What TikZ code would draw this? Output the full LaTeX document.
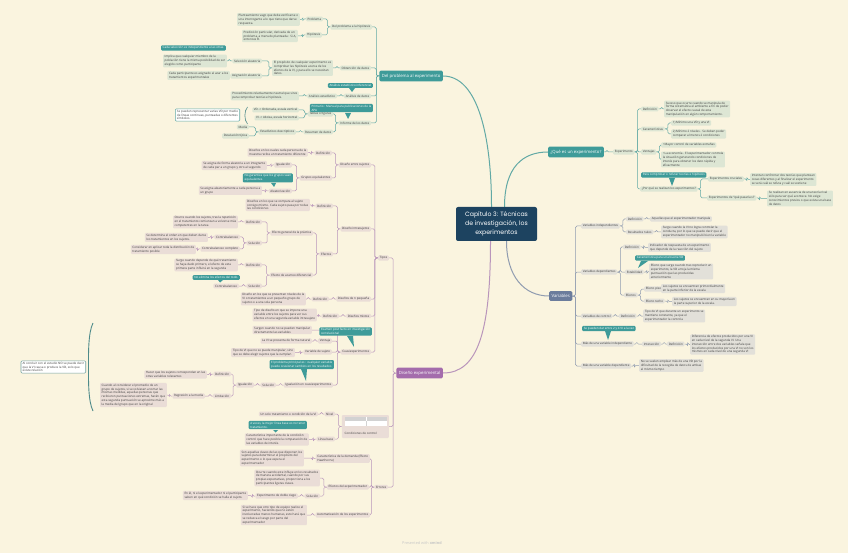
\documentclass[tikz,border=0pt]{standalone}
\usepackage{fontspec}
\setmainfont{Open Sans}
\newfontfamily\titlefont{Poppins}
\usetikzlibrary{positioning, backgrounds}
\definecolor{cbg}{HTML}{FAF4DF}
\definecolor{ctext}{HTML}{3B3B3B}
\definecolor{cteal}{HTML}{3E9B99}
\definecolor{ctline}{HTML}{62A9A5}
\definecolor{ctfill}{HTML}{DDE6D4}
\definecolor{cpurple}{HTML}{A46CAC}
\definecolor{cpline}{HTML}{B995BB}
\definecolor{cpfill}{HTML}{EADDD7}
\definecolor{cslate}{HTML}{6B7C9C}
\definecolor{csline}{HTML}{909CB0}
\definecolor{csfill}{HTML}{E2E0D9}
\definecolor{cnavy}{HTML}{1D4360}
\definecolor{cbrace}{HTML}{4F8B8A}
\tikzset{
  every picture/.style={font=\fontsize{3}{3.8}\selectfont},
  tb/.style={fill=ctfill, text=ctext, rounded corners=1pt, inner xsep=1.6pt, inner ysep=1.1pt, align=left},
  pb/.style={tb, fill=cpfill},
  sb/.style={tb, fill=csfill},
  bub/.style={fill=cteal, text=white, rounded corners=1pt, inner xsep=1.6pt, inner ysep=1.1pt, align=left},
  note/.style={tb, fill=white, draw=ctline, line width=0.6pt},
  hub/.style={text=white, rounded corners=1.5pt, inner xsep=2.4pt, minimum height=8.5pt, font=\fontsize{4.3}{5}\selectfont},
  tl/.style={draw=ctline, line width=0.5pt, rounded corners=1.5pt},
  pl/.style={tl, draw=cpline},
  sl/.style={tl, draw=csline},
}
\begin{document}
\begin{tikzpicture}[x=1pt, y=-1pt]
  \useasboundingbox (0,0) rectangle (848,553);

  % centre
  \node[fill=cnavy, text=white, rounded corners=2pt, align=center, minimum width=81pt, minimum height=34pt, font=\titlefont\fontsize{6.2}{8.8}\selectfont] (cap) at (496.5,224) {Capítulo 3: Técnicas\\de investigación, los\\experimentos};

  \begin{scope}[every node/.append style={anchor=east}]
  % del problema al experimento
  \node[hub, fill=cteal] (dpe) at (443,76) {Del problema al experimento};
  \node[tb] (dph) at (372,27) {Del problema a la hipótesis};
  \node[tb] (prob) at (323,19) {Problema};
  \node[tb] (probt) at (300,19.5) {Planteamiento vago que debe verificarse o\\una interrogante a lo que tiene que darse\\respuesta.};
  \node[tb] (hip) at (322,35) {Hipótesis};
  \node[tb] (hipt) at (298,36) {Predicción particular, derivada de un\\problema, a menudo planteada : Si A,\\entonces B.};
  \node[tb] (obt) at (371,68) {Obtención de datos};
  \node[tb] (prop) at (333,68) {El propósito de cualquier experimento es\\comprobar las hipótesis acerca de los\\efectos de la VI, y para ello se necesitan\\datos.};
  \node[tb] (sel) at (262,61) {Selección aleatoria};
  \node[tb] (selt) at (227,61) {Implica que cualquier miembro de la\\población tiene la misma posibilidad de ser\\elegido como participante};
  \node[bub] (selc) at (226,48) {Cada selección es independiente a las otras.};
  \node[tb] (asig) at (262,76) {Asignación aleatoria};
  \node[tb] (asigt) at (230,75.5) {Cada participante es asignado al azar a los\\tratamientos experimentales};
  \node[tb] (anal) at (371,96) {Análisis de datos};
  \node[tb] (anest) at (337,96) {Análisis estadístico};
  \node[tb] (anestt) at (299,96) {Procedimiento relativamente neutral que sirve\\para comprobar teorías e hipótesis.};
  \node[bub] (aninf) at (373,85.5) {Análisis estadístico inferencial};
  \node[tb] (inf) at (371,123) {Informe de los datos};
  \node[tb] (tab) at (333,114) {Tablas o figuras};
  \node[tb] (vdax) at (299,110) {VD -> Ordenada, escala vertical};
  \node[tb] (viax) at (299,118) {VI -> Abcisa, escala horizontal};
  \node[note] (repr) at (240,115) {Se pueden representar varias VD por medio\\de líneas continuas, punteadas o diferentes\\símbolos.};
  \node[bub] (apa) at (373,108) {Primario : Manual para publicaciones de la\\APA};
  \node[tb] (res) at (333,132) {Resumen de datos};
  \node[tb] (desc) at (296,132) {Estadísticos descriptivos};
  \node[tb] (media) at (249,127) {Media};
  \node[tb] (desv) at (249,136) {Desviación típica};

  % diseño experimental
  \node[hub, fill=cpurple] (dex) at (443,373) {Diseño experimental};
  \node[pb] (tipos) at (389,258) {Tipos};
  \node[pb] (des) at (371,165) {Diseño entre sujetos};
  \node[pb] (desdef) at (332,153) {Definición};
  \node[pb] (desdeft) at (308,152.5) {Diseños en los cuales cada persona de la\\muestra recibe un tratamiento diferente};
  \node[pb] (geq) at (332,178) {Grupos equivalentes};
  \node[pb] (igu) at (292,165) {Igualación};
  \node[pb] (igut) at (267,165.5) {Se asigna de forma aleatoria a un integrante\\de cada par a un grupo y otro al segundo};
  \node[bub] (igucal) at (293,178) {No garantiza que los grupos sean\\equivalentes.};
  \node[pb] (alea) at (292,191) {Aleatorización};
  \node[pb] (aleat) at (262,190.5) {Se asigna aleatoriamente a cada persona a\\un grupo};
  \node[pb] (dis) at (371,229) {Diseño intrasujetos};
  \node[pb] (disdef) at (333,206) {Definición};
  \node[pb] (disdeft) at (310,205) {Diseños en los que se compara al sujeto\\consigo mismo. Cada sujeto pasa por todas\\las condiciones};
  \node[pb] (efe) at (333,254) {Efectos};
  \node[pb] (egp) at (313,233) {Efecto general de la práctica};
  \node[pb] (egpdef) at (262,222) {Definición};
  \node[pb] (egpdeft) at (238,222) {Ocurre cuando los sujetos, tras la repetición\\en el tratamiento comienzan a volverse más\\competentes en la tarea};
  \node[pb] (egpsol) at (262,243) {Solución};
  \node[pb] (cba) at (240,237) {Contrabalanceo};
  \node[pb] (cbat) at (208,237.5) {Se determina el orden en que deben darse\\los tratamientos en los sujetos.};
  \node[pb] (cbc) at (240,249) {Contrabalanceo completo};
  \node[pb] (cbct) at (196,249.5) {Considerar en aplicar toda la distribución de\\tratamiento posible};
  \node[pb] (ead) at (313,275) {Efecto de acarreo diferencial};
  \node[pb] (eaddef) at (262,265) {Definición};
  \node[pb] (eaddeft) at (238,265) {Surge cuando depende de qué tratamiento\\se haya dado primero, el efecto de esta\\primera parte influirá en la segunda};
  \node[pb] (eadsol) at (262,286) {Solución};
  \node[pb] (cbb) at (239,286) {Contrabalanceo};
  \node[bub] (cbbcal) at (240,277.5) {No elimina los efectos del todo.};
  \node[pb] (dnp) at (371,299) {Diseños de n pequeña};
  \node[pb] (dnpdef) at (329,299) {Definición};
  \node[pb] (dnpdeft) at (306,299) {Diseño en los que se presentan niveles de la\\VI o tratamientos a un pequeño grupo de\\sujetos o a una sola persona};
  \node[pb] (dmx) at (371,316) {Diseños mixtos};
  \node[pb] (dmxdef) at (339,316) {Definición};
  \node[pb] (dmxdeft) at (317,315) {Tipo de diseño en que se impone una\\variable entre los sujetos para ver sus\\efectos en una segunda variable intrasujeto};
  \node[pb] (cua) at (371,352) {Cuasiexperimentos};
  \node[pb] (cuat) at (312,330) {Surgen cuando no se pueden manipular\\directamente las variables};
  \node[pb] (ven) at (332,341) {Ventaja};
  \node[pb] (vent) at (312,341) {La VI se presenta de forma natural};
  \node[pb] (vsu) at (332,352) {Variable de sujeto};
  \node[pb] (vsut) at (295,352.5) {Tipo de VI que no se puede manipular, sino\\que se debe elegir sujetos que la cumplan};
  \node[pb] (iqc) at (333,385) {Igualación en cuasiexperimentos};
  \node[pb] (iqsol) at (276,385) {Solución};
  \node[pb] (iqig) at (254,385) {Igualación};
  \node[pb] (iqdef) at (231,374) {Definición};
  \node[pb] (iqdeft) at (207,374.5) {Hacer que los sujetos correspondan en las\\otras variables relevantes};
  \node[pb] (iqlim) at (231,396) {Limitación};
  \node[pb] (reg) at (205,396) {Regresión a la media};
  \node[pb] (regt) at (167,395) {Cuando al considerar el promedio de un\\grupo de sujetos, si se volviesen a tomar las\\mismas medidas, aquellas personas que\\recibieron puntuaciones extremas, harán que\\esta segunda puntuación se aproxime más a\\la media del grupo que en la original};
  \node[bub] (cuacal) at (372,331.5) {Examen post facto en investigación\\correlacional};
  \node[bub] (iqccal) at (334,364.5) {El problema principal es : cualquier variable\\puede ocasionar cambios en los resultados};
  \node[note, draw=cbrace!80] (concl) at (86,367) {Al concluir con el estudio NO se puede decir\\que la VI causa o produce la VD, solo que\\existe relación};
  \node[pb, minimum width=47pt, minimum height=23pt] (cond) at (389,426.5) {};
  \node[pb] (niv) at (335,414) {Nivel};
  \node[pb] (nivt) at (318,414) {Un solo tratamiento o condición de la VI};
  \node[pb] (lb) at (335,439) {Línea base};
  \node[pb] (lbt) at (309,439.5) {Característica importante de la condición\\control que hace posible la comparación de\\las variables de interés.};
  \node[bub] (lbcal) at (307,425) {A veces, la mejor línea base es no tener\\tratamiento.};
  \node[pb] (err) at (388,487) {Errores};
  \node[pb] (cdem) at (370,458.5) {Característica de la demanda (Efecto\\Hawthorne)};
  \node[pb] (cdemt) at (304,458) {Son aquellas claves de las que disponen los\\sujetos para determinar el propósito del\\experimento o lo que espera el\\experimentador};
  \node[pb] (eexp) at (369,487) {Efectos del experimentador};
  \node[pb] (eexpt) at (320,478) {Ocurre cuando este influye en los resultados\\de manera accidental, cuando por sus\\propias expectativas, proporciona a los\\participantes ligeras claves.};
  \node[pb] (eexpsol) at (320,496) {Solución};
  \node[pb] (dcg) at (298,496) {Experimento de doble ciego};
  \node[pb] (dcgt) at (248,495.5) {En él, ni el experimentador ni el participante\\saben en qué condición se halla el sujeto.};
  \node[pb] (auto) at (370,515) {Automatización de los experimentos};
  \node[pb] (autot) at (307,515) {Si se hace que otro tipo de equipo realice el\\experimento, haciendo que no estén\\involucradas manos humanas, esto hará que\\se reduzca el sesgo por parte del\\experimentador};
  \end{scope}

  % tabla de condiciones de control
  \fill[gray!35] (344.5,417) rectangle (387,421);
  \fill[white] (344.5,421) rectangle (387,425.5);
  \draw[white, line width=0.3pt] (365.75,417) -- (365.75,421);
  \draw[gray!35, line width=0.3pt] (365.75,421) -- (365.75,425.5);
  \node[anchor=west, inner sep=0pt, text=ctext] (condt) at (344.5,433.5) {Condiciones de control};

  \begin{scope}[every node/.append style={anchor=west}]
  % que es un experimento
  \node[hub, fill=cteal] (que) at (548,152) {¿Qué es un experimento?};
  \node[tb] (exp) at (613,152) {Experimento};
  \node[tb] (qdef) at (641,109) {Definición};
  \node[tb] (qdeft) at (664,109) {Suceso que ocurre cuando se manipula de\\forma sistemática el ambiente a fin de poder\\observar el efecto causal de esta\\manipulación en algún comportamiento.};
  \node[tb] (car) at (641,129) {Características};
  \node[tb] (car1) at (671,123) {1) Mínimo una VD y una VI};
  \node[tb] (car2) at (671,134) {2) Mínimo 2 niveles . Se deben poder\\comparar al menos 2 condiciones};
  \node[tb] (vtj) at (641,152) {Ventajas};
  \node[tb] (vtj1) at (661,145) {• Mayor control de variables extrañas};
  \node[tb] (vtj2) at (661,159.5) {• La economía . El experimentador controla\\la situación generando condiciones de\\interés para obtener los dato rápida y\\eficazmente};
  \node[tb] (porq) at (640,189) {¿Por qué se realizan los experimentos?};
  \node[tb] (ecru) at (708,179) {Experimentos cruciales};
  \node[tb] (ecrut) at (750,179.5) {Intentan confrontar dos teorías que plantean\\cosas diferentes y al finalizar el experimento\\se verá cuál se refuta y cuál se sostiene};
  \node[tb] (eqps) at (707,198) {Experimentos de "qué pasaría si"};
  \node[tb] (eqpst) at (767,198.5) {Se realizan en ausencia de una teoría rival\\sólo para ver qué acontece. No exige\\conocimientos previos o que exista una base\\de datos};
  \node[bub] (porqcal) at (641,175) {Para comprobar o refutar teorías e hipótesis};

  % variables
  \node[hub, fill=cslate] (var) at (549,296) {Variables};
  \node[sb] (vi) at (581,226) {Variables independientes};
  \node[sb] (videf) at (626,219) {Definición};
  \node[sb] (videft) at (650,219) {Aquellas que el experimentador manipula};
  \node[sb] (rnul) at (626,232) {Resultados nulos};
  \node[sb] (rnult) at (661,232) {Surge cuando la VI no logra controlar la\\conducta, por lo que se puede decir que el\\experimentador no manipuló bien la variable};
  \node[sb] (vd) at (581,272) {Variables dependientes};
  \node[sb] (vddef) at (623,247) {Definición};
  \node[sb] (vddeft) at (648,247.5) {Indicador de respuesta de un experimento\\que depende de la reacción del sujeto};
  \node[sb] (est) at (625,272) {Estabilidad};
  \node[sb] (estt) at (649,271.5) {Efecto que surge cuando tras reproducir un\\experimento, la VD arroja la misma\\puntuación que las producidas\\anteriormente};
  \node[bub] (estcal) at (635,258) {Característica para una buena VD};
  \node[sb] (vdef) at (624,295) {Efectos};
  \node[sb] (piso) at (644,289) {Efecto piso};
  \node[sb] (pisot) at (661,288.5) {Los sujetos se encuentran primordialmente\\en la parte inferior de la escala};
  \node[sb] (techo) at (644,301) {Efecto techo};
  \node[sb] (techot) at (672,301.5) {Los sujetos se encuentran en su mayoría en\\la parte superior de la escala.};
  \node[sb] (vc) at (581,316) {Variables de control};
  \node[sb] (vcdef) at (619,316) {Definición};
  \node[sb] (vcdeft) at (643,316) {Tipo de VI que durante un experimento se\\mantiene constante, ya que el\\experimentador la controla};
  \node[sb] (mvi) at (581,344) {Más de una variable independiente};
  \node[sb] (inter) at (642,344) {Interacción};
  \node[sb] (intdef) at (667,344) {Definición};
  \node[sb] (intdeft) at (690,344.5) {Diferencia de efectos producidos por una VI\\en cada nivel de la segunda VI. Una\\interacción entre dos variables señala que\\los efectos producidos por una VI no son los\\mismos en cada nivel de una segunda VI};
  \node[bub] (mvical) at (582,328.5) {Se pueden dar entre 2 y 4 VI a la vez};
  \node[sb] (mvd) at (581,366) {Más de una variable dependiente};
  \node[sb] (mvdt) at (639,365.5) {No se suelen emplear más de una VD por la\\dificultad de la recogida de datos de ambas\\al mismo tiempo};
  \end{scope}

  % punteros de las notas
  \fill[cteal] (349,88) -- (355,88) -- (352,92) -- cycle;
  \fill[cteal] (345,113) -- (351,113) -- (348,119) -- cycle;
  \fill[cteal] (271,183) -- (276,183) -- (274,187) -- cycle;
  \fill[cteal] (218,280) -- (223,280) -- (220,282.5) -- cycle;
  \fill[cteal] (347,336) -- (353,336) -- (354,347) -- cycle;
  \fill[cteal] (301,369) -- (307,369) -- (306,381) -- cycle;
  \fill[cteal] (273,430) -- (278,430) -- (275.5,432.5) -- cycle;
  \fill[cteal] (669,178) -- (675,178) -- (672,186) -- cycle;
  \fill[cteal] (641,261) -- (648,261) -- (638,268) -- cycle;
  \fill[cteal] (605,331) -- (611,331) -- (608,340) -- cycle;

  \node[text=gray!45, font=\fontsize{3.8}{4}\selectfont] (brand) at (422,543) {Presented with \textbf{xmind}};

  \begin{scope}[on background layer]
    \fill[cbg] (0,0) rectangle (848,553);
    % ramas principales
    \draw[ctline, line width=1pt] ([xshift=-5pt]cap.north) .. controls +(0,-70) and +(35,0) .. (dpe.east);
    \draw[ctline, line width=1pt] ([xshift=8pt]cap.north) .. controls +(0,-40) and +(-25,0) .. (que.west);
    \draw[csline, line width=1pt] ([xshift=10pt]cap.south) .. controls +(0,35) and +(-25,0) .. (var.west);
    \draw[cpline, line width=1pt] ([xshift=-6pt]cap.south) .. controls +(0,90) and +(35,0) .. (dex.east);
    % conectores
    \foreach \a/\b in {dpe/dph, dpe/obt, dpe/anal, dpe/inf, dph/prob, dph/hip, prob/probt, hip/hipt, obt/prop, prop/sel, prop/asig, sel/selt, asig/asigt, anal/anest, anest/anestt, inf/tab, inf/res, tab/vdax, tab/viax, res/desc, desc/media, desc/desv}
      \draw[tl] (\a.west) -- ++(-3,0) |- (\b.east);
    \foreach \a/\b in {dex/tipos, dex/cond, dex/err, tipos/des, tipos/dis, tipos/dnp, tipos/dmx, tipos/cua, des/desdef, des/geq, desdef/desdeft, geq/igu, geq/alea, igu/igut, alea/aleat, dis/disdef, dis/efe, disdef/disdeft, efe/egp, efe/ead, egp/egpdef, egp/egpsol, egpdef/egpdeft, egpsol/cba, egpsol/cbc, cba/cbat, cbc/cbct, ead/eaddef, ead/eadsol, eaddef/eaddeft, eadsol/cbb, dnp/dnpdef, dnpdef/dnpdeft, dmx/dmxdef, dmxdef/dmxdeft, cua/cuat, cua/ven, cua/vsu, cua/iqc, ven/vent, vsu/vsut, iqc/iqsol, iqsol/iqig, iqig/iqdef, iqig/iqlim, iqdef/iqdeft, iqlim/reg, reg/regt, cond/niv, cond/lb, niv/nivt, lb/lbt, err/cdem, err/eexp, err/auto, cdem/cdemt, eexp/eexpt, eexp/eexpsol, eexpsol/dcg, dcg/dcgt, auto/autot}
      \draw[pl] (\a.west) -- ++(-3,0) |- (\b.east);
    \foreach \a/\b in {que/exp, exp/qdef, exp/car, exp/vtj, exp/porq, qdef/qdeft, car/car1, car/car2, vtj/vtj1, vtj/vtj2, porq/ecru, porq/eqps, ecru/ecrut, eqps/eqpst}
      \draw[tl] (\a.east) -- ++(3,0) |- (\b.west);
    \foreach \a/\b in {var/vi, var/vd, var/vc, var/mvi, var/mvd, vi/videf, vi/rnul, videf/videft, rnul/rnult, vd/vddef, vd/est, vd/vdef, vddef/vddeft, est/estt, vdef/piso, vdef/techo, piso/pisot, techo/techot, vc/vcdef, vcdef/vcdeft, mvi/inter, inter/intdef, intdef/intdeft, mvd/mvdt}
      \draw[sl] (\a.east) -- ++(3,0) |- (\b.west);
    % llaves
    \draw[cbrace, line width=0.6pt] (247.5,107) .. controls (244,111) and (244,120) .. (247.5,124);
    \draw[cbrace, line width=0.9pt] (93,323) .. controls (88,333) and (88.5,355) .. (88.5,367) .. controls (88.5,379) and (88,401) .. (93,411);
  \end{scope}
\end{tikzpicture}
\end{document}
